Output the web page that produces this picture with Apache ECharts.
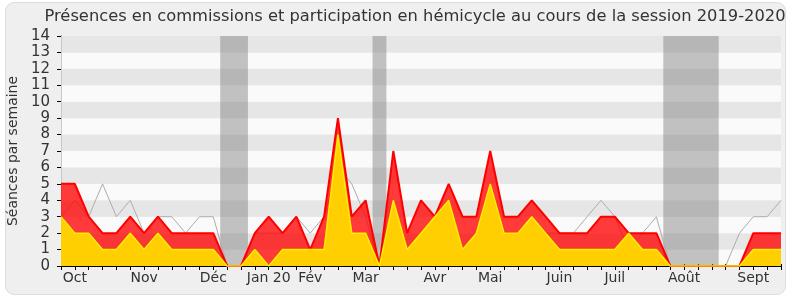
<!DOCTYPE html>
<html>
<head>
<meta charset="utf-8">
<script src="https://cdn.jsdelivr.net/npm/echarts@6/dist/echarts.min.js"></script>
<style>
html,body{margin:0;padding:0;background:#ffffff;}
#frame{position:absolute;left:5px;top:2px;width:779px;height:291px;border:1px solid #dddddd;border-radius:9px;background:#efefef;}
#chart{position:absolute;left:0;top:0;width:790px;height:300px;}
</style>
</head>
<body>
<div id="frame"></div>
<div id="chart"></div>
<script>
// weekly index 0..52 (Sept 2019 -> Sept 2020)
var monthLabels = {1:'Oct',6:'Nov',11:'Déc',15:'Jan 20',18:'Fév',22:'Mar',27:'Avr',31:'Mai',36:'Juin',40:'Juil',45:'Août',50:'Sept'};
var commissions = [5,5,3,2,2,3,2,3,2,2,2,2,0,0,2,3,2,3,1,3,9,3,4,0,7,2,4,3,5,3,3,7,3,3,4,3,2,2,2,3,3,2,2,2,0,0,0,0,0,0,2,2,2];
var hemicycle   = [3,2,2,1,1,2,1,2,1,1,1,1,0,0,1,0,1,1,1,1,8,2,2,0,4,1,2,3,4,1,2,5,2,2,3,2,1,1,1,1,1,2,1,1,0,0,0,0,0,0,1,1,1];
var mediane     = [3,4,3,5,3,4,2,3,3,2,3,3,0,0,2,2,2,3,2,3,6,5,3,0,0,0,0,1,2,1,1,2,2,2,1,2,2,2,3,4,3,1,2,3,0,0,0,0,0,2,3,3,4];
var vacances = [[11.5,13.5],[22.5,23.5],[43.5,47.5]];
var yTicks = [0,14];

function pairs(arr){ return arr.map(function(v,i){ return [i,v]; }); }

var chart = echarts.init(document.getElementById('chart'), null, {renderer:'canvas'});
var font = 'DejaVu Sans';
chart.setOption({
  backgroundColor: 'transparent',
  animation: false,
  grid: {left: 61, top: 36, right: 9, bottom: 34},
  graphic: [
    {type:'text', x: 415, y: 17, style:{text:'Présences en commissions et participation en hémicycle au cours de la session 2019-2020', font:'16.3px "DejaVu Sans"', fill:'#333', textAlign:'center', textVerticalAlign:'middle'}},
    {type:'text', x: 13, y: 151, rotation: Math.PI/2, style:{text:'Séances par semaine', font:'14px "DejaVu Sans"', fill:'#333', textAlign:'center', textVerticalAlign:'middle'}}
  ],
  xAxis: [{
    type: 'value', min: 0, max: 52, interval: 1,
    axisLine: {show: true, onZero: false, lineStyle: {color: '#000', width: 1}},
    axisTick: {show: true, length: 4, lineStyle: {color: '#000'}},
    axisLabel: {show: true, margin: 5, fontFamily: font, fontSize: 14, color: '#333',
      formatter: function(v){ return monthLabels[v] || ''; }},
    splitLine: {show: false}
  },{
    type: 'value', min: 0, max: 52, interval: 1, position: 'top',
    axisLine: {show: false},
    axisTick: {show: true, length: 2, lineStyle: {color: '#000'}},
    axisLabel: {show: false},
    splitLine: {show: false}
  }],
  yAxis: [{
    type: 'value', min: yTicks[0], max: yTicks[1], interval: 1,
    axisLine: {show: true, lineStyle: {color: '#000'}},
    axisTick: {show: true, length: 4, lineStyle: {color: '#000'}},
    axisLabel: {margin: 11, fontFamily: font, fontSize: 15, color: '#333'},
    splitLine: {show: false},
    splitArea: {show: true, areaStyle: {color: ['#fafafa', '#e6e6e6']}}
  },{
    type: 'value', min: yTicks[0], max: yTicks[1], interval: 1, position: 'right',
    axisLine: {show: true, lineStyle: {color: '#c8c8c8'}},
    axisTick: {show: false}, axisLabel: {show: false}, splitLine: {show: false}
  }],
  series: [
    {type: 'line', data: [], z: 1, silent: true,
      markArea: {silent: true, itemStyle: {color: 'rgba(125,125,125,0.45)'},
        data: vacances.map(function(b){ return [{xAxis: b[0]}, {xAxis: b[1]}]; })}},
    {type: 'line', data: pairs(mediane), z: 2, symbol: 'none', lineStyle: {color: '#acacac', width: 1}},
    {type: 'line', data: pairs(commissions), z: 3, symbol: 'none',
      lineStyle: {color: '#ff0000', width: 2}, areaStyle: {color: 'rgba(255,0,0,0.77)', opacity: 1}},
    {type: 'line', data: pairs(hemicycle), z: 4, symbol: 'none',
      lineStyle: {color: '#ffee00', width: 1.5}, areaStyle: {color: 'rgba(255,213,0,0.96)', opacity: 1}}
  ]
});
</script>
</body>
</html>
